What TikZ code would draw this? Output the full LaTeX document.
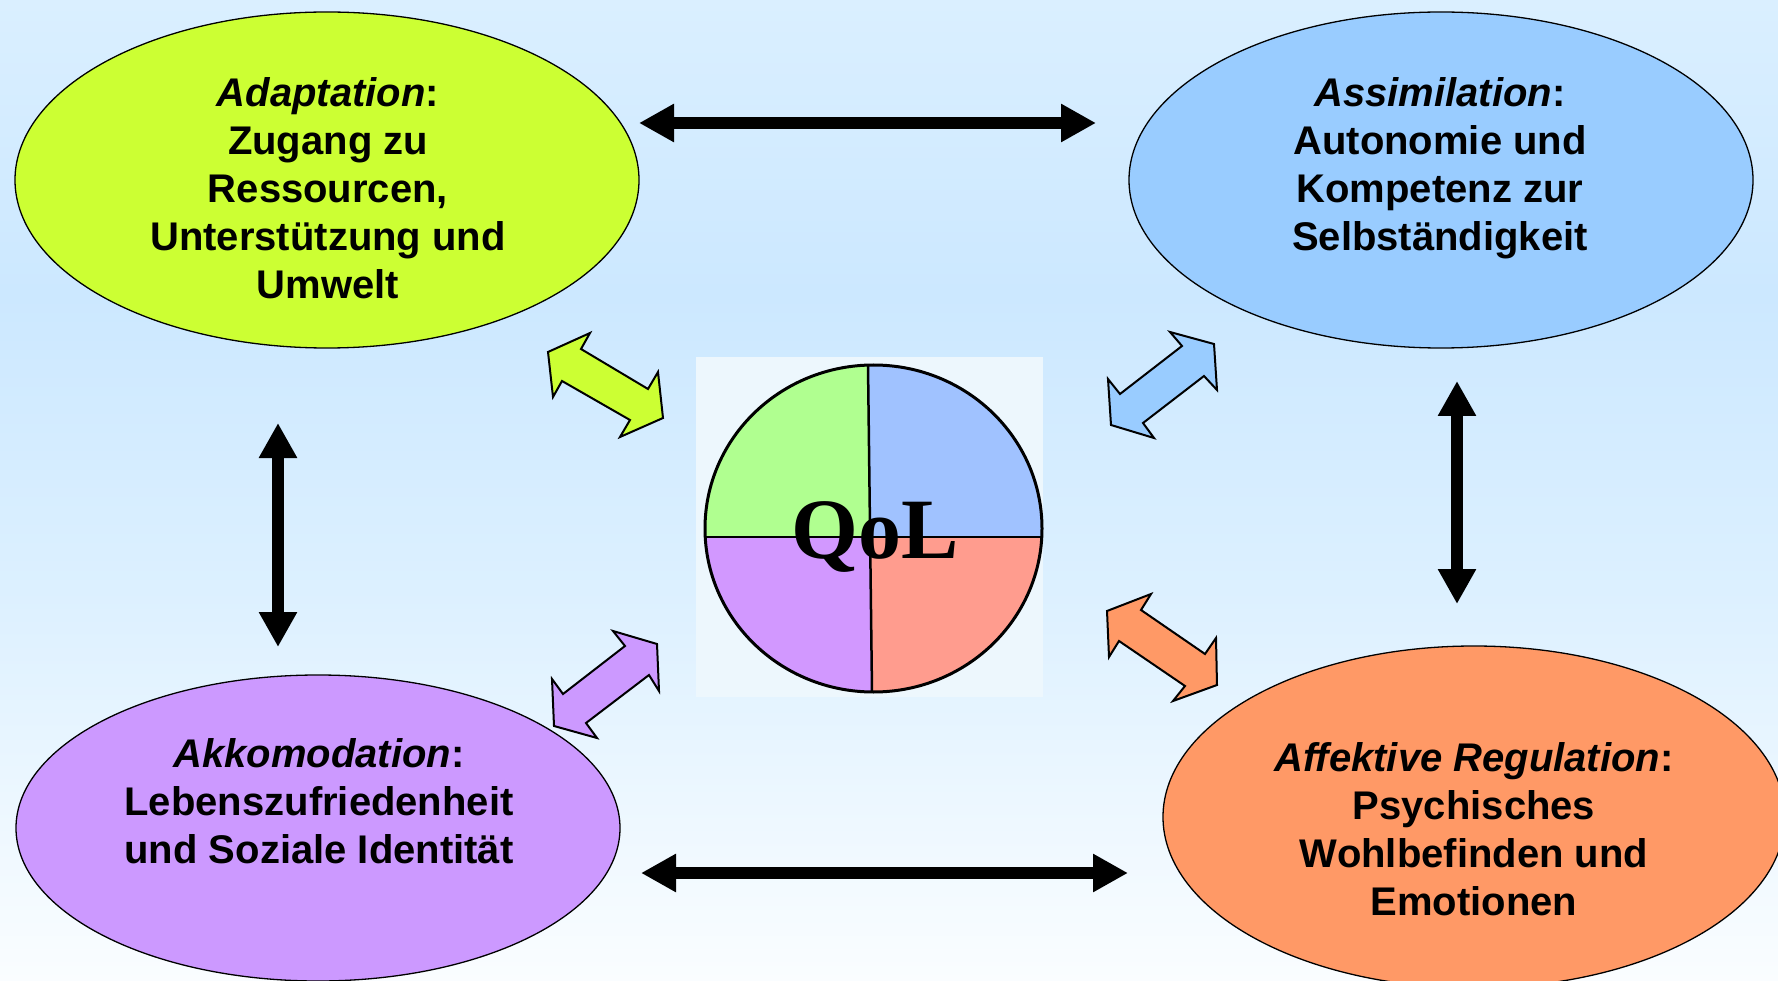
\documentclass[tikz,border=0pt]{standalone}
\usepackage{fontspec}
\setmainfont{Liberation Sans}
\newfontfamily\qolfont{Liberation Serif}
\usetikzlibrary{arrows.meta,shapes.geometric}

% palette
\definecolor{adaptfill}{HTML}{CCFF33}
\definecolor{assimfill}{HTML}{99CCFF}
\definecolor{akkofill}{HTML}{CC99FF}
\definecolor{affektfill}{HTML}{FF9966}
\definecolor{qgreen}{HTML}{B0FF90}
\definecolor{qblue}{HTML}{A0C2FF}
\definecolor{qpurple}{HTML}{D298FF}
\definecolor{qsalmon}{HTML}{FF9C8E}
\definecolor{qolbg}{HTML}{EDF7FD}
\definecolor{bgtop}{HTML}{DAEFFF}
\definecolor{bgmid}{HTML}{CCE8FF}
\definecolor{bglow}{HTML}{DCF0FF}
\definecolor{bgbot}{HTML}{FAFDFF}

\pgfdeclareverticalshading{pagefade}{100bp}{color(0bp)=(bgbot); color(25bp)=(bgbot);
  color(45bp)=(bglow); color(60bp)=(bgmid); color(75bp)=(bgtop); color(100bp)=(bgtop)}

\tikzset{
  area/.style={ellipse, draw=black, line width=1.3pt, inner sep=0pt, outer sep=0pt},
  areatext/.style={align=center, inner sep=0pt,
    font=\fontsize{40pt}{48pt}\selectfont\bfseries},
  linkarrow/.style={line width=12pt,
    {Triangle[length=35pt,width=36pt]}-{Triangle[length=35pt,width=36pt]}},
  blockarrow/.style={draw=black, line width=2pt, line join=miter},
}

\begin{document}
\begin{tikzpicture}[x=1pt, y=-1pt]
\useasboundingbox (0,0) rectangle (1778,981);
\shade[shading=pagefade] (0,0) rectangle (1778,981);

% the four areas
\node[area, fill=adaptfill,  minimum width=624pt, minimum height=336pt] (adapt)  at (327,180) {};
\node[area, fill=assimfill,  minimum width=624pt, minimum height=336pt] (assim)  at (1441,180) {};
\node[area, fill=akkofill,   minimum width=604pt, minimum height=306pt] (akko)   at (318,828) {};
\node[area, fill=affektfill, minimum width=622pt, minimum height=342pt] (affekt) at (1474,817) {};

\node[areatext] (adapt-text) at (328,188)
  {\textit{Adaptation}:\\Zugang zu\\Ressourcen,\\Unterstützung und\\Umwelt};
\node[areatext] (assim-text) at (1440,168)
  {\textit{Assimilation}:\\Autonomie und\\Kompetenz zur\\Selbständigkeit};
\node[areatext] (akko-text) at (319,801)
  {\textit{Akkomodation}:\\Lebenszufriedenheit\\und Soziale Identität};
\node[areatext] (affekt-text) at (1474,829)
  {\textit{Affektive Regulation}:\\Psychisches\\Wohlbefinden und\\Emotionen};

% links between the areas
\coordinate (top-l) at (639,123);   \coordinate (top-r) at (1096,123);
\coordinate (bot-l) at (641,873);   \coordinate (bot-r) at (1128,873);
\coordinate (lft-t) at (278,423);   \coordinate (lft-b) at (278,647);
\coordinate (rgt-t) at (1457,381);  \coordinate (rgt-b) at (1457,604);
\draw[linkarrow] (top-l) -- (top-r);
\draw[linkarrow] (bot-l) -- (bot-r);
\draw[linkarrow] (lft-t) -- (lft-b);
\draw[linkarrow] (rgt-t) -- (rgt-b);

% block arrows towards the centre
\draw[blockarrow, fill=adaptfill] (548,352) -- (590,333) -- (581,349) -- (648,389) -- (658,372)
  -- (663,418) -- (620,437) -- (630,420) -- (562,381) -- (553,397) -- cycle;
\draw[blockarrow, fill=assimfill] (1170,332) -- (1214,344) -- (1217,390) -- (1204,376) -- (1143,423)
  -- (1154,438) -- (1111,425) -- (1108,379) -- (1120,394) -- (1182,346) -- cycle;
\draw[blockarrow, fill=akkofill] (613,631) -- (657,644) -- (659,691) -- (649,675) -- (586,723)
  -- (597,738) -- (554,726) -- (552,679) -- (563,694) -- (625,646) -- cycle;
\draw[blockarrow, fill=affektfill] (1107,611) -- (1151,594) -- (1141,610) -- (1205,654) -- (1216,638)
  -- (1217,685) -- (1173,701) -- (1185,686) -- (1119,641) -- (1109,657) -- cycle;

% central QoL disc
\fill[qolbg] (696,357) rectangle (1043,697);
\node[ellipse, minimum width=337pt, minimum height=327pt, inner sep=0pt, outer sep=0pt]
  (qolring) at (873.5,528.5) {};
\begin{scope}
  \clip (873.5,528.5) ellipse [x radius=168.5pt, y radius=163.5pt];
  \fill[qgreen]  (700,360) -- (868,360) -- (870.5,537) -- (700,537) -- cycle;
  \fill[qblue]   (868,360) -- (1046,360) -- (1046,537) -- (870.5,537) -- cycle;
  \fill[qpurple] (700,537) -- (870.5,537) -- (872.5,696) -- (700,696) -- cycle;
  \fill[qsalmon] (870.5,537) -- (1046,537) -- (1046,696) -- (872.5,696) -- cycle;
\end{scope}
\draw[line width=2.5pt] (868,365) -- (872,692);
\draw[line width=2.5pt] (705,537) -- (1043,537);
\draw[line width=3pt] (qolring.center) ellipse [x radius=168.5pt, y radius=163.5pt];
\node[font=\qolfont\bfseries\fontsize{86pt}{86pt}\selectfont, anchor=base, inner sep=0pt]
  (qol) at (875,558) {QoL};
\end{tikzpicture}
\end{document}
